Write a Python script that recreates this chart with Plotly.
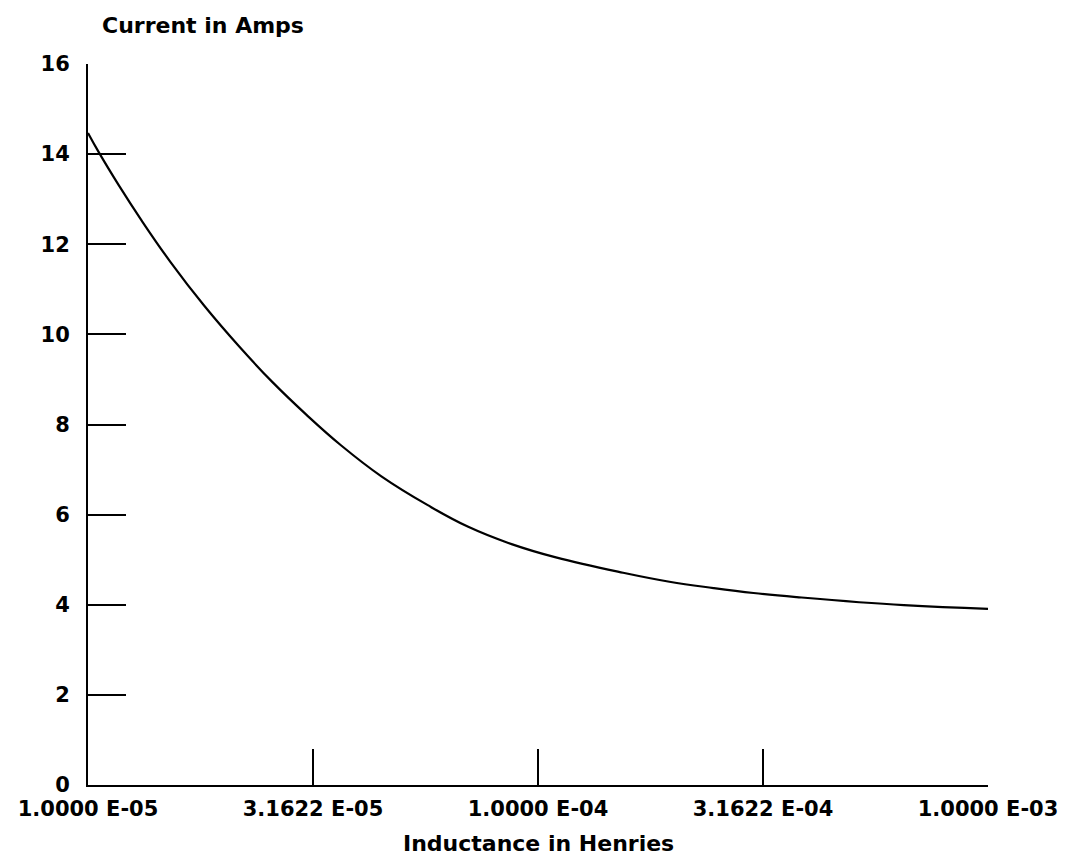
import plotly.graph_objects as go

# Data (inductance in H, current in A)
inductance = [1.000e-5, 1.054e-5, 1.172e-5, 1.315e-5, 1.524e-5, 1.811e-5,
              2.168e-5, 2.570e-5, 3.055e-5, 3.648e-5, 4.487e-5, 5.689e-5,
              6.998e-5, 8.770e-5, 1.096e-4, 1.545e-4, 1.959e-4, 2.455e-4,
              3.013e-4, 3.758e-4, 6.501e-4, 1.000e-3]
current = [14.47, 14.06, 13.30, 12.53, 11.61, 10.64,
           9.73, 8.94, 8.22, 7.54, 6.85, 6.21,
           5.73, 5.34, 5.05, 4.71, 4.51, 4.37,
           4.26, 4.17, 3.99, 3.91]

x_tickvals = [1.0e-5, 3.1622e-5, 1.0e-4, 3.1622e-4, 1.0e-3]
x_ticktext = ["1.0000 E-05", "3.1622 E-05", "1.0000 E-04", "3.1622 E-04", "1.0000 E-03"]
y_tickvals = [0, 2, 4, 6, 8, 10, 12, 14, 16]

FONT = "DejaVu Sans"
TXT = dict(family=FONT, size=22, color="black", weight="bold")
TICK = dict(family=FONT, size=21, color="black", weight="bold")

fig = go.Figure()
fig.add_trace(go.Scatter(
    x=inductance, y=current, mode="lines",
    line=dict(color="black", width=2.2, shape="spline", smoothing=1.2),
    showlegend=False, hoverinfo="skip",
))

fig.update_layout(
    width=1062, height=848,
    margin=dict(l=80, r=82, t=56, b=71, autoexpand=False),
    paper_bgcolor="white", plot_bgcolor="white",
    font=TXT,
    xaxis=dict(
        type="log", range=[-5, -3], automargin=False,
        showline=True, linecolor="black", linewidth=2, mirror=False,
        showgrid=False, zeroline=False,
        ticks="inside", ticklen=36, tickwidth=2, tickcolor="black",
        tickvals=x_tickvals, ticktext=x_ticktext,
        ticklabelstandoff=4, tickfont=TICK,
    ),
    yaxis=dict(
        range=[0, 16], automargin=False,
        showline=True, linecolor="black", linewidth=2, mirror=False,
        showgrid=False, zeroline=False,
        ticks="inside", ticklen=38, tickwidth=2, tickcolor="black",
        tickvals=y_tickvals, ticktext=[str(v) for v in y_tickvals],
        ticklabelstandoff=12, tickfont=TICK,
    ),
    annotations=[
        dict(text="Current in Amps", xref="paper", yref="paper",
             x=0.013, y=1, xanchor="left", yanchor="middle", yshift=39,
             showarrow=False, font=TXT),
        dict(text="Inductance in Henries", xref="paper", yref="paper",
             x=0.5, y=0, xanchor="center", yanchor="middle", yshift=-58,
             showarrow=False, font=TXT),
    ],
)

fig.write_html("out.html")
